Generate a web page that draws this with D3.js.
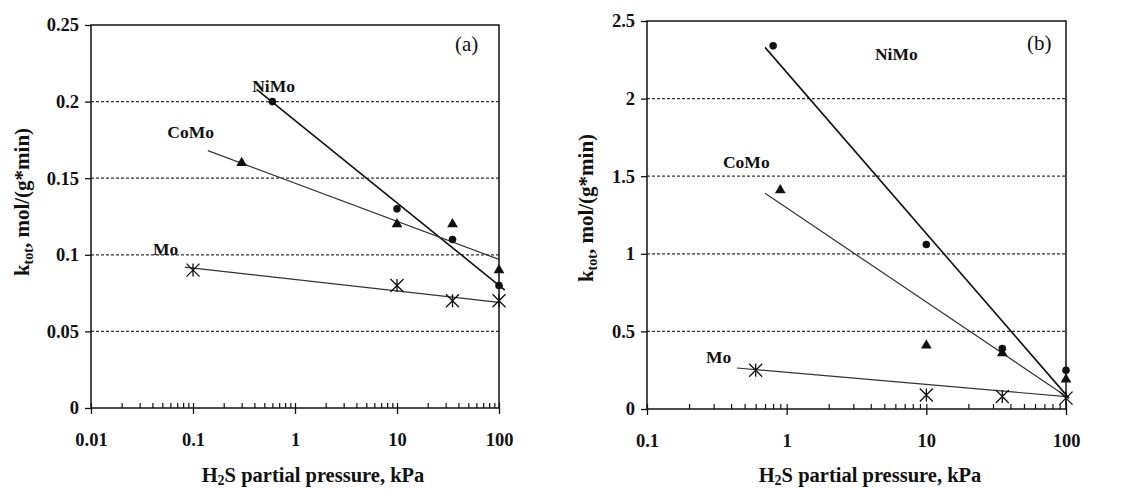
<!DOCTYPE html>
<html>
<head>
<meta charset="utf-8">
<script src="https://cdn.jsdelivr.net/npm/d3@7"></script>
<style>
  body { margin: 0; background: #fff; }
  text { font-family: "Liberation Serif", "Times New Roman", serif; fill: #111; }
</style>
</head>
<body>
<svg id="chart" width="1125" height="491"></svg>
<script>
// panel (a)
const xTicksA = [0.01, 0.1, 1, 10, 100];
const yTicksA = [0, 0.05, 0.1, 0.15, 0.2, 0.25];
const niMoA = [[0.6, 0.2], [10, 0.13], [35, 0.11], [100, 0.08]];
const coMoA = [[0.3, 0.16], [10, 0.12], [35, 0.12], [100, 0.09]];
const moA = [[0.1, 0.09], [10, 0.08], [35, 0.07], [100, 0.07]];
const niMoFitA = [[0.42, 0.208], [114, 0.077]];
const coMoFitA = [[0.14, 0.168], [100, 0.097]];
const moFitA = [[0.083, 0.092], [100, 0.069]];

// panel (b)
const xTicksB = [0.1, 1, 10, 100];
const yTicksB = [0, 0.5, 1, 1.5, 2, 2.5];
const niMoB = [[0.8, 2.34], [10, 1.06], [35, 0.39], [100, 0.25]];
const coMoB = [[0.9, 1.41], [10, 0.41], [35, 0.36], [100, 0.19]];
const moB = [[0.6, 0.25], [10, 0.09], [35, 0.08], [100, 0.07]];
const niMoFitB = [[0.7, 2.33], [105, 0.07]];
const coMoFitB = [[0.7, 1.39], [105, 0.07]];
const moFitB = [[0.44, 0.264], [100, 0.08]];

const svg = d3.select("#chart");

function starPath(s) {
  return `M${-s},${-s}L${s},${s}M${-s},${s}L${s},${-s}M0,${-s}L0,${s}`;
}

function drawPanel(p) {
  const x = d3.scaleLog().domain(p.xDomain).range([p.left, p.right]);
  const y = d3.scaleLinear().domain(p.yDomain).range([p.bottom, p.top]);
  const g = svg.append("g");

  // dashed gridlines
  g.append("g").selectAll("line")
    .data(p.yTicks.filter(d => d > p.yDomain[0] && d < p.yDomain[1]))
    .enter().append("line")
    .attr("x1", p.left).attr("x2", p.right)
    .attr("y1", d => y(d)).attr("y2", d => y(d))
    .attr("stroke", "#333")
    .attr("stroke-width", 1.2)
    .attr("stroke-dasharray", "3,2");

  // frame
  g.append("rect")
    .attr("x", p.left).attr("y", p.top)
    .attr("width", p.right - p.left).attr("height", p.bottom - p.top)
    .attr("fill", "none").attr("stroke", "#111").attr("stroke-width", 1.5);

  // y axis
  const yAxis = g.append("g")
    .attr("transform", `translate(${p.left},0)`)
    .call(d3.axisLeft(y).tickValues(p.yTicks).tickSize(6).tickPadding(6).tickFormat(d => String(d)));
  yAxis.select(".domain").remove();
  yAxis.selectAll("text").attr("font-size", 18.5).attr("font-weight", "bold");
  yAxis.selectAll("line").attr("stroke", "#111").attr("stroke-width", 1.3);

  // x axis, major ticks down
  const xAxis = g.append("g")
    .attr("transform", `translate(0,${p.bottom})`)
    .call(d3.axisBottom(x).tickValues(p.xTicks).tickSize(6).tickPadding(19).tickFormat(d => String(d)));
  xAxis.select(".domain").remove();
  xAxis.selectAll("text").attr("font-size", 18.5).attr("font-weight", "bold");
  xAxis.selectAll("line").attr("stroke", "#111").attr("stroke-width", 1.3);

  // minor ticks up
  const minor = g.append("g")
    .attr("transform", `translate(0,${p.bottom})`)
    .call(d3.axisBottom(x).tickValues(x.ticks()).tickSize(-5).tickFormat(""));
  minor.select(".domain").remove();
  minor.selectAll("line").attr("stroke", "#111").attr("stroke-width", 1.2);

  const line = d3.line().x(d => x(d[0])).y(d => y(d[1]));

  // fitted lines
  p.fits.forEach(f => {
    g.append("path")
      .datum(f.data)
      .attr("d", line)
      .attr("fill", "none")
      .attr("stroke", f.color)
      .attr("stroke-width", f.width);
  });

  // markers
  g.append("g").selectAll("circle")
    .data(p.niMo).enter().append("circle")
    .attr("cx", d => x(d[0])).attr("cy", d => y(d[1]))
    .attr("r", 3.8).attr("fill", "#111");

  g.append("g").selectAll("path")
    .data(p.coMo).enter().append("path")
    .attr("transform", d => `translate(${x(d[0])},${y(d[1])})`)
    .attr("d", d3.symbol().type(d3.symbolTriangle).size(50))
    .attr("fill", "#111");

  g.append("g").selectAll("path")
    .data(p.mo).enter().append("path")
    .attr("transform", d => `translate(${x(d[0])},${y(d[1])})`)
    .attr("d", starPath(6.5))
    .attr("fill", "none").attr("stroke", "#111").attr("stroke-width", 1.3);

  // series labels
  p.labels.forEach(l => {
    g.append("text")
      .attr("x", x(l.at[0])).attr("y", y(l.at[1]))
      .attr("font-size", l.bold ? 17.5 : 21)
      .attr("font-weight", l.bold ? "bold" : "normal")
      .text(l.text);
  });

  // axis titles
  const xt = g.append("text")
    .attr("x", p.xTitleX).attr("y", 482)
    .attr("text-anchor", "middle")
    .attr("font-size", 20.5).attr("font-weight", "bold");
  xt.append("tspan").text("H");
  xt.append("tspan").attr("font-size", 14).attr("dy", 3).text("2");
  xt.append("tspan").attr("dy", -3).text("S partial pressure, kPa");

  const yt = g.append("text")
    .attr("transform", `translate(${p.yTitleX},${p.yTitleY}) rotate(-90)`)
    .attr("text-anchor", "middle")
    .attr("font-size", 21).attr("font-weight", "bold");
  yt.append("tspan").text("k");
  yt.append("tspan").attr("font-size", 14).attr("dy", 4).text("tot");
  yt.append("tspan").attr("dy", -4).text(", mol/(g*min)");
}

drawPanel({
  xDomain: [0.01, 100], yDomain: [0, 0.25],
  left: 91, right: 499, top: 25, bottom: 408,
  xTicks: xTicksA, yTicks: yTicksA,
  niMo: niMoA, coMo: coMoA, mo: moA,
  fits: [
    { data: niMoFitA, color: "#111", width: 1.6 },
    { data: coMoFitA, color: "#333", width: 1.2 },
    { data: moFitA, color: "#333", width: 1.2 }
  ],
  labels: [
    { text: "NiMo", at: [0.38, 0.206], bold: true },
    { text: "CoMo", at: [0.056, 0.176], bold: true },
    { text: "Mo", at: [0.0405, 0.1], bold: true },
    { text: "(a)", at: [37, 0.233], bold: false }
  ],
  xTitleX: 313, yTitleX: 29, yTitleY: 202
});

drawPanel({
  xDomain: [0.1, 100], yDomain: [0, 2.5],
  left: 647, right: 1066, top: 21, bottom: 409,
  xTicks: xTicksB, yTicks: yTicksB,
  niMo: niMoB, coMo: coMoB, mo: moB,
  fits: [
    { data: niMoFitB, color: "#111", width: 1.6 },
    { data: coMoFitB, color: "#333", width: 1.2 },
    { data: moFitB, color: "#333", width: 1.2 }
  ],
  labels: [
    { text: "NiMo", at: [4.29, 2.25], bold: true },
    { text: "CoMo", at: [0.35, 1.55], bold: true },
    { text: "Mo", at: [0.264, 0.296], bold: true },
    { text: "(b)", at: [52.5, 2.31], bold: false }
  ],
  xTitleX: 870, yTitleX: 593, yTitleY: 208
});
</script>
</body>
</html>
